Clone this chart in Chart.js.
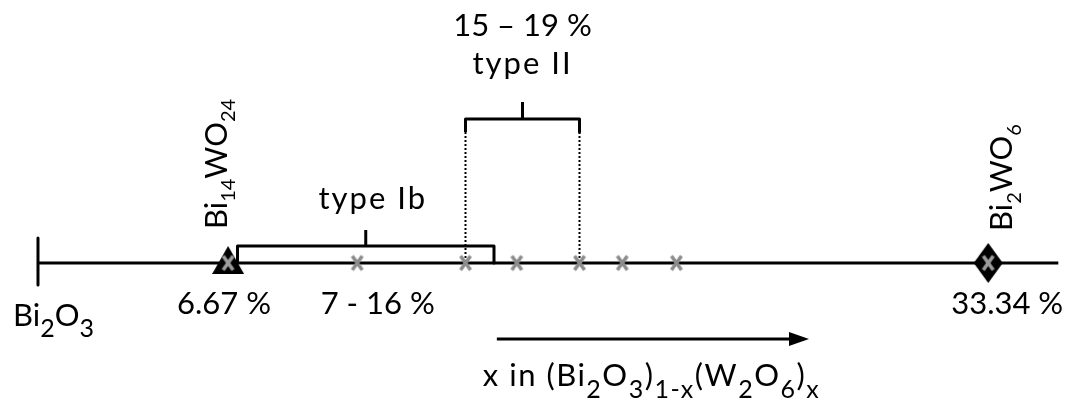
<!DOCTYPE html>
<html>
<head>
<meta charset="utf-8">
<script src="https://cdn.jsdelivr.net/npm/chart.js@4.4.1/dist/chart.umd.min.js"></script>
<style>
  html, body { margin: 0; padding: 0; background: #fff; }
  #wrap { width: 1069px; height: 400px; }
</style>
</head>
<body>
<div id="wrap"><canvas id="chart" width="1069" height="400"></canvas></div>
<script>
// x in (Bi2O3)1-x(W2O6)x, in %
const axisStart = 0;          // Bi2O3
const axisEnd = 35.8;
const bi14wo24 = 6.67;
const bi2wo6 = 33.34;
const samples = [11.2, 15, 16.8, 19, 20.5, 22.4];
const typeIb = [7, 16];
const typeII = [15, 19];
const arrowSpan = [16.1, 26.7];

const FONT = "Lato, 'Open Sans', sans-serif";
const INK = '#000';

// vertical levels (y units, main line at 0)
const lvl = {
  tickTop: 25, tickBottom: -22,
  ibTop: 17, ibTick: 33,
  iiEnd: 131, iiTop: 144, iiTick: 161,
  arrow: -76
};

function shape(w, h, path) {
  const c = document.createElement('canvas');
  c.width = w; c.height = h;
  const g = c.getContext('2d');
  g.fillStyle = '#000';
  g.beginPath();
  path(g);
  g.closePath();
  g.fill();
  return c;
}
function cross(color) {
  const c = document.createElement('canvas');
  c.width = 15; c.height = 19;
  const g = c.getContext('2d');
  g.strokeStyle = color;
  g.lineWidth = 3.6;
  g.beginPath();
  g.moveTo(2.5, 2.5); g.lineTo(12.5, 16.5);
  g.moveTo(12.5, 2.5); g.lineTo(2.5, 16.5);
  g.stroke();
  return c;
}
const triangleImg = shape(32, 34, g => { g.moveTo(16, 0); g.lineTo(32, 28); g.lineTo(0, 28); });
const diamondImg = shape(29, 40, g => { g.moveTo(14.5, 0); g.lineTo(29, 20); g.lineTo(14.5, 40); g.lineTo(0, 20); });
const headImg = shape(20, 14, g => { g.moveTo(0, 0); g.lineTo(20, 7); g.lineTo(0, 14); });

const seg = (pts, extra = {}) => ({
  data: pts.map(([x, y]) => ({ x, y })),
  showLine: true,
  borderColor: '#000',
  borderWidth: 3,
  borderJoinStyle: 'round',
  pointRadius: 0,
  clip: false,
  ...extra
});
const marks = (xs, extra) => ({
  data: xs.map(x => ({ x, y: 0 })),
  showLine: false,
  pointRadius: 8,
  clip: false,
  ...extra
});
const mid = r => (r[0] + r[1]) / 2;

// first datasets are painted last (on top)
const datasets = [
  marks([bi14wo24, bi2wo6], { pointStyle: cross('#9c9c9c') }),
  marks(samples, { pointStyle: cross('#8c8c8c') }),
  marks([bi14wo24], { pointStyle: triangleImg }),
  marks([bi2wo6], { pointStyle: diamondImg }),
  seg([[axisStart, 0], [axisEnd, 0]], { borderCapStyle: 'butt' }),
  seg([[axisStart, lvl.tickTop], [axisStart, lvl.tickBottom]]),
  seg([[typeIb[0], 0], [typeIb[0], lvl.ibTop], [typeIb[1], lvl.ibTop], [typeIb[1], 0]]),
  seg([[mid(typeIb), lvl.ibTop], [mid(typeIb), lvl.ibTick]]),
  seg([[typeII[0], lvl.iiEnd], [typeII[0], lvl.iiTop], [typeII[1], lvl.iiTop], [typeII[1], lvl.iiEnd]]),
  seg([[mid(typeII), lvl.iiTop], [mid(typeII), lvl.iiTick]]),
  ...typeII.map(v => seg([[v, lvl.iiEnd], [v, 0]], { borderWidth: 2, borderDash: [2, 2] })),
  marks([arrowSpan[1]], { pointStyle: headImg, data: [{ x: arrowSpan[1], y: lvl.arrow }] }),
  seg([[arrowSpan[0], lvl.arrow], [arrowSpan[1], lvl.arrow]])
];

// text with subscripts: parts = [[text, isSub], ...]
function richText(ctx, parts, px, py, o) {
  const size = o.size || 31;
  const sub = Math.round(size * (o.subRatio || 0.66));
  const drop = o.drop || size * 0.27;
  const sp = o.spacing || 0;
  ctx.letterSpacing = sp + 'px';
  const widths = parts.map(([t, s]) => {
    ctx.font = `${s ? sub : size}px ${FONT}`;
    return ctx.measureText(t).width;
  });
  const total = widths.reduce((a, b) => a + b, 0);
  let cx = o.align === 'center' ? px - total / 2 : px;
  ctx.textAlign = 'left';
  ctx.textBaseline = 'alphabetic';
  parts.forEach(([t, s], i) => {
    ctx.font = `${s ? sub : size}px ${FONT}`;
    ctx.fillText(t, cx, py + (s ? drop : 0));
    cx += widths[i];
  });
  ctx.letterSpacing = '0px';
}
function rotatedText(ctx, parts, px, py, o) {
  ctx.save();
  ctx.translate(px, py);
  ctx.rotate(-Math.PI / 2);
  richText(ctx, parts, 0, 0, o);
  ctx.restore();
}

const labelsPlugin = {
  id: 'labels',
  afterDatasetsDraw(chart) {
    const { ctx, scales: { x } } = chart;
    const tri = x.getPixelForValue(bi14wo24);
    const dia = x.getPixelForValue(bi2wo6);
    const ib = x.getPixelForValue(mid(typeIb));
    const ii = x.getPixelForValue(mid(typeII));
    const start = x.getPixelForValue(axisStart);
    const arrow = x.getPixelForValue(arrowSpan[0]);
    const words = { align: 'center', size: 31, spacing: 2 };
    const nums = { align: 'center', size: 31 };
    const big = { align: 'left', size: 31, subRatio: 0.82, drop: 11, spacing: 0 };
    ctx.save();
    ctx.fillStyle = INK;

    richText(ctx, [['15 \u2013 19 %', false]], ii, 36, nums);
    richText(ctx, [['type II', false]], ii, 74, words);
    richText(ctx, [['type Ib', false]], ib + 7, 209, words);
    richText(ctx, [['7 - 16 %', false]], ib + 12, 314, nums);
    richText(ctx, [['6.67 %', false]], tri - 4, 314, nums);
    richText(ctx, [['33.34 %', false]], dia + 19, 314, nums);
    richText(ctx, [['Bi', false], ['2', true], ['O', false], ['3', true]], start - 25, 326, big);

    rotatedText(ctx, [['Bi', false], ['14', true], ['WO', false], ['24', true]], tri - 1, 229, { size: 31 });
    rotatedText(ctx, [['Bi', false], ['2', true], ['WO', false], ['6', true]], dia + 24, 231, { size: 31 });

    richText(ctx, [
      ['x in (Bi', false], ['2', true], ['O', false], ['3', true], [')', false], ['1-x', true],
      ['(W', false], ['2', true], ['O', false], ['6', true], [')', false], ['x', true]
    ], arrow - 14, 386, { ...big, spacing: 1.5, drop: 12 });

    ctx.restore();
  }
};

const xMin = -1.333;
const xMax = 36.175;

new Chart(document.getElementById('chart'), {
  type: 'scatter',
  data: { datasets },
  options: {
    responsive: false,
    animation: false,
    events: [],
    layout: { padding: 0, autoPadding: false },
    plugins: {
      legend: { display: false },
      tooltip: { enabled: false }
    },
    scales: {
      x: { type: 'linear', min: xMin, max: xMax, display: false },
      y: { type: 'linear', min: -137, max: 263, display: false }
    }
  },
  plugins: [labelsPlugin]
});
</script>
</body>
</html>
